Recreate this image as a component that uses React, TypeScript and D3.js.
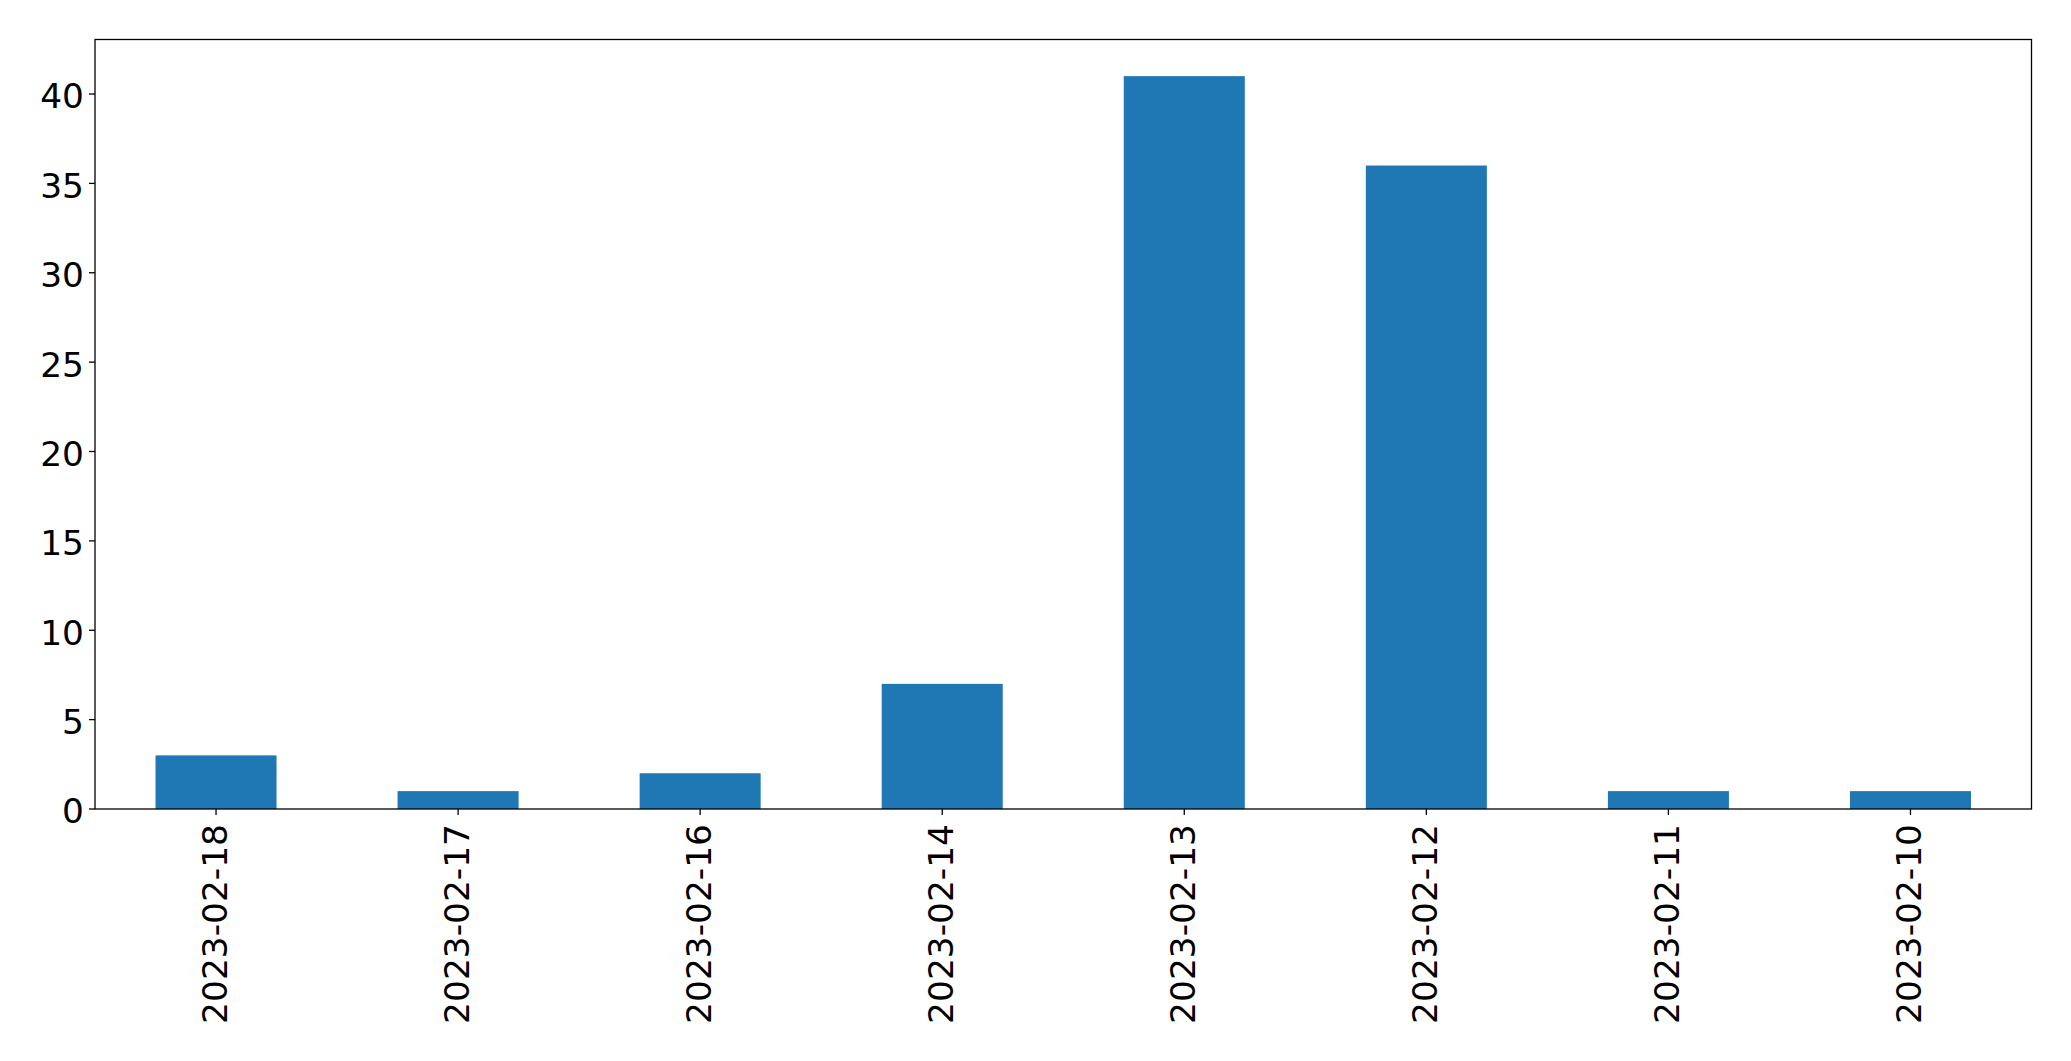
import React from "react";
import * as d3 from "d3";

const categories = ["2023-02-18", "2023-02-17", "2023-02-16", "2023-02-14", "2023-02-13", "2023-02-12", "2023-02-11", "2023-02-10"];
const values = [3, 1, 2, 7, 41, 36, 1, 1];
const yTicks = [0, 5, 10, 15, 20, 25, 30, 35, 40];

const W = 2071;
const H = 1061;
const m = { left: 95, top: 39.5, right: 2031.5, bottom: 809 };
const FONT = "DejaVu Sans, sans-serif";
const FS = 34.4;

export default function App() {
  const x = d3.scaleBand<string>().domain(categories).range([m.left, m.right]).paddingInner(0.5).paddingOuter(0.25);
  const y = d3.scaleLinear().domain([0, 41 * 1.05]).range([m.bottom, m.top]);
  return (
    <svg width={W} height={H} style={{ position: "absolute", left: 0, top: 0, background: "#fff" }}>
      <rect x={0} y={0} width={W} height={H} fill="#fff" />
      {categories.map((c, i) => (
        <rect key={c} x={x(c)} y={y(values[i])} width={x.bandwidth()} height={y(0) - y(values[i])} fill="#1f77b4" />
      ))}
      <rect x={m.left} y={m.top} width={m.right - m.left} height={m.bottom - m.top} fill="none" stroke="#000" strokeWidth={1.3} />
      {yTicks.map((t) => (
        <g key={t} transform={`translate(0,${y(t)})`}>
          <line x1={m.left - 6} x2={m.left} stroke="#000" strokeWidth={1.3} />
          <text x={m.left - 11} dy="0.42em" textAnchor="end" fontFamily={FONT} fontSize={FS} fill="#000">{t}</text>
        </g>
      ))}
      {categories.map((c) => {
        const cx = (x(c) as number) + x.bandwidth() / 2;
        return (
          <g key={c}>
            <line x1={cx} x2={cx} y1={m.bottom} y2={m.bottom + 6} stroke="#000" strokeWidth={1.3} />
            <text transform={`translate(${cx},${m.bottom + 15}) rotate(-90)`} dy="0.31em" textAnchor="end" fontFamily={FONT} fontSize={FS} fill="#000">{c}</text>
          </g>
        );
      })}
    </svg>
  );
}
